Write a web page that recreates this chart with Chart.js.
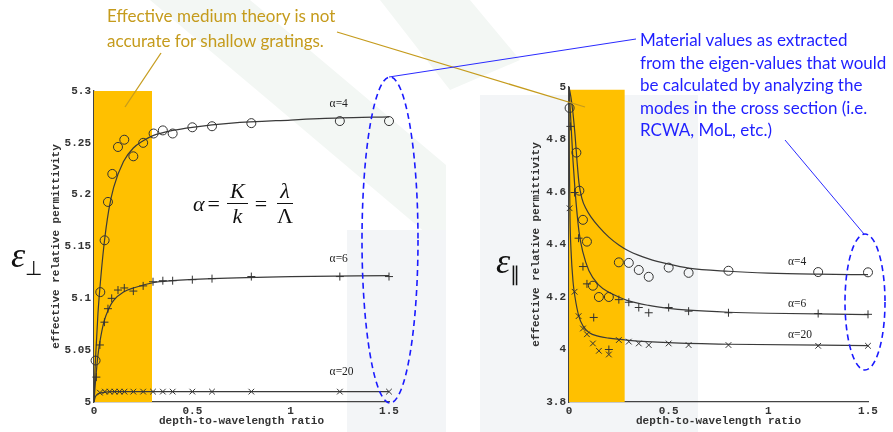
<!DOCTYPE html>
<html>
<head>
<meta charset="utf-8">
<script src="https://cdn.jsdelivr.net/npm/chart.js@4/dist/chart.umd.min.js"></script>
<style>
html, body { margin: 0; padding: 0; background: #fff; }
#page { position: relative; width: 893px; height: 432px; overflow: hidden; background: #fff; }
#bg, #marks { position: absolute; left: 0; top: 0; }
#marks { pointer-events: none; }
canvas { position: absolute; top: 0; }
#perp { left: 0; }
#par { left: 446px; }
.note { position: absolute; white-space: nowrap; font-family: Lato, "Open Sans", sans-serif; }
.gold { color: #c59b1c; font-size: 17px; line-height: 25px; }
.blue { color: #1f1fff; font-size: 17px; line-height: 22.5px; }
.eps { position: absolute; font-family: "Liberation Serif", serif; font-style: italic; font-size: 36px; color: #111; }
.eps sub { font-style: normal; font-size: 20px; }
.formula { position: absolute; left: 193px; top: 179px; font-family: "Liberation Serif", serif; font-size: 22px; display: flex; align-items: center; color: #111; }
.formula i { font-style: italic; }
.frac { display: inline-flex; flex-direction: column; align-items: center; margin: 0 4px; }
.frac span { padding: 0 3px; line-height: 24px; }
.frac span:first-child { border-bottom: 1px solid #111; }
.eq { margin: 0 3px; }
</style>
</head>
<body>
<div id="page">
  <svg id="bg" width="893" height="432">
    <polygon points="150,0 250,0 446,165 446,250" fill="#f3f7f4"/>
    <polygon points="380,0 470,0 520,60 450,90" fill="#f3f7f4"/>
    <rect x="347" y="230" width="99" height="202" fill="#f3f5f7"/>
    <rect x="480" y="95" width="218" height="337" fill="#f3f5f7"/>
  </svg>
  <canvas id="perp" width="446" height="432"></canvas>
  <canvas id="par" width="447" height="432"></canvas>
  <svg id="marks" width="893" height="432">
    <line x1="161" y1="53" x2="125" y2="107" stroke="#c59b1c" stroke-width="1.3"/>
    <line x1="337" y1="32" x2="585" y2="107" stroke="#c59b1c" stroke-width="1.3"/>
    <line x1="636" y1="39" x2="389" y2="77" stroke="#2a2aff" stroke-width="1"/>
    <line x1="785" y1="140" x2="864" y2="234" stroke="#2a2aff" stroke-width="1"/>
    <ellipse cx="390" cy="240" rx="28" ry="163" fill="none" stroke="#1a1aff" stroke-width="1.6" stroke-dasharray="6 4"/>
    <ellipse cx="865" cy="302" rx="20" ry="68" fill="none" stroke="#1a1aff" stroke-width="1.6" stroke-dasharray="6 4"/>
  </svg>
  <div class="note gold" style="left:107px; top:3px;">Effective medium theory is not<br>accurate for shallow gratings.</div>
  <div class="note blue" style="left:640px; top:29px;">Material values as extracted<br>from the eigen-values that would<br>be calculated by analyzing the<br>modes in the cross section (i.e.<br>RCWA, MoL, etc.)</div>
  <div class="eps" style="left:11px; top:234px;">ε<sub>⊥</sub></div>
  <div class="eps" style="left:496px; top:240px;">ε<sub>∥</sub></div>
  <div class="formula">
    <i>α</i><span class="eq">=</span>
    <span class="frac"><span><i>K</i></span><span><i>k</i></span></span>
    <span class="eq">=</span>
    <span class="frac"><span><i>λ</i></span><span>Λ</span></span>
  </div>
</div>
<script>
// ---- perpendicular permittivity (left plot) ----
const perpCirc4 = [[0.008,5.040],[0.032,5.106],[0.054,5.156],[0.071,5.193],[0.093,5.220],[0.122,5.246],[0.154,5.253],[0.2,5.237],[0.25,5.250],[0.303,5.259],[0.35,5.262],[0.4,5.259],[0.5,5.265],[0.6,5.266],[0.8,5.269],[1.25,5.271],[1.5,5.271]];
const perpPlus6 = [[0.012,5.024],[0.03,5.055],[0.053,5.077],[0.071,5.09],[0.09,5.10],[0.122,5.108],[0.154,5.110],[0.2,5.107],[0.25,5.112],[0.3,5.116],[0.35,5.117],[0.4,5.117],[0.5,5.118],[0.6,5.119],[0.8,5.121],[1.25,5.121],[1.5,5.121]];
const perpCross20 = [[0.03,5.009],[0.055,5.01],[0.08,5.01],[0.105,5.01],[0.13,5.01],[0.155,5.01],[0.2,5.01],[0.25,5.01],[0.3,5.01],[0.35,5.01],[0.4,5.01],[0.5,5.01],[0.6,5.01],[0.8,5.01],[1.25,5.01],[1.5,5.01]];

const perpFit4X = [0,0.005,0.01,0.02,0.03,0.05,0.075,0.1,0.15,0.2,0.25,0.3,0.4,0.5,0.7,1.0,1.25,1.5];
const perpFit4Y = [5.0,5.03,5.05,5.085,5.11,5.15,5.185,5.207,5.232,5.245,5.252,5.257,5.262,5.265,5.269,5.272,5.274,5.275];
const perpFit6X = [0,0.005,0.01,0.02,0.03,0.05,0.075,0.1,0.15,0.2,0.3,0.4,0.6,1.0,1.5];
const perpFit6Y = [5.0,5.014,5.025,5.045,5.058,5.077,5.09,5.098,5.106,5.11,5.115,5.117,5.119,5.121,5.122];
const perpFit20X = [0,0.005,0.01,0.02,0.04,0.1,0.5,1.5];
const perpFit20Y = [5.0,5.004,5.006,5.008,5.009,5.01,5.01,5.01];

const perpTicks = [5, 5.05, 5.1, 5.15, 5.2, 5.25, 5.3];
const perpTickLabels = ['5', '5.05', '5.1', '5.15', '5.2', '5.25', '5.3'];
const perpBand = [[0, 5.3], [0.295, 5.3]];
const perpLabels = ['α=4', 'α=6', 'α=20'];
const perpLabelX = [1.198, 1.198, 1.198];
const perpLabelY = [5.2875, 5.138, 5.029];

// ---- parallel permittivity (right plot) ----
const parCirc4 = [[0.003,4.92],[0.037,4.75],[0.052,4.605],[0.07,4.494],[0.09,4.411],[0.12,4.243],[0.15,4.2],[0.2,4.2],[0.25,4.332],[0.3,4.33],[0.35,4.303],[0.4,4.277],[0.5,4.312],[0.6,4.292],[0.8,4.30],[1.25,4.295],[1.5,4.294]];
const parPlus6 = [[0.007,4.85],[0.028,4.598],[0.048,4.424],[0.07,4.316],[0.09,4.25],[0.124,4.122],[0.2,4.0],[0.25,4.19],[0.3,4.18],[0.35,4.16],[0.4,4.14],[0.5,4.16],[0.6,4.146],[0.8,4.14],[1.25,4.137],[1.5,4.134]];
const parCross20 = [[0.003,4.538],[0.028,4.22],[0.048,4.127],[0.07,4.08],[0.09,4.058],[0.12,4.023],[0.15,3.995],[0.2,3.981],[0.25,4.036],[0.3,4.03],[0.35,4.023],[0.4,4.017],[0.5,4.023],[0.6,4.017],[0.8,4.017],[1.25,4.014],[1.5,4.014]];

const parFit4X = [0,0.01,0.02,0.03,0.04,0.05,0.065,0.085,0.11,0.15,0.2,0.25,0.3,0.4,0.5,0.6,0.8,1.0,1.25,1.5];
const parFit4Y = [5.0,4.96,4.90,4.82,4.72,4.635,4.575,4.537,4.505,4.467,4.428,4.398,4.375,4.345,4.325,4.31,4.298,4.291,4.287,4.285];
const parFit6X = [0,0.01,0.02,0.03,0.05,0.07,0.1,0.15,0.2,0.25,0.3,0.4,0.5,0.6,0.8,1.0,1.5];
const parFit6Y = [5.0,4.86,4.72,4.61,4.45,4.37,4.3,4.245,4.218,4.2,4.185,4.168,4.157,4.15,4.142,4.138,4.133];
const parFit20X = [0,0.002,0.005,0.01,0.02,0.03,0.05,0.07,0.1,0.15,0.2,0.3,0.5,0.8,1.5];
const parFit20Y = [5.0,4.7,4.5,4.38,4.26,4.2,4.125,4.09,4.065,4.05,4.043,4.035,4.026,4.02,4.015];

const parTicks = [3.8, 4, 4.2, 4.4, 4.6, 4.8, 5];
const parTickLabels = ['3.8', '4', '4.2', '4.4', '4.6', '4.8', '5'];
const parBand = [[0, 4.99], [0.28, 4.99]];
const parLabels = ['α=4', 'α=6', 'α=20'];
const parLabelX = [1.099, 1.099, 1.099];
const parLabelY = [4.335, 4.175, 4.057];

const depthTicks = [0, 0.5, 1, 1.5];
const depthTickLabels = ['0', '0.5', '1', '1.5'];

const ink = '#333';
const monoFont = { family: '"Liberation Mono", "DejaVu Sans Mono", monospace', size: 11, weight: 'bold' };

function pts(list) {
    return list.map(p => ({ x: p[0], y: p[1] }));
}
function zipXY(xs, ys) {
    return xs.map((x, i) => ({ x: x, y: ys[i] }));
}

function markerSet(data, style, radius) {
    return {
        type: 'scatter',
        data: pts(data),
        pointStyle: style,
        pointRadius: radius,
        backgroundColor: 'rgba(0,0,0,0)',
        borderColor: ink,
        pointBorderWidth: 1,
        clip: false
    };
}
function curveSet(xs, ys) {
    return {
        type: 'line',
        data: zipXY(xs, ys),
        borderColor: '#3a3a3a',
        borderWidth: 1.2,
        pointRadius: 0,
        cubicInterpolationMode: 'monotone',
        fill: false
    };
}
function bandSet(band) {
    return {
        type: 'line',
        data: pts(band),
        borderWidth: 0,
        borderColor: 'rgba(0,0,0,0)',
        pointRadius: 0,
        backgroundColor: '#ffc000',
        fill: 'start',
        order: 9
    };
}

// writes the α=… tag next to each curve
const curveTags = {
    id: 'curveTags',
    afterDatasetsDraw(chart, args, opts) {
        const ctx = chart.ctx;
        const xs = chart.scales.x, ys = chart.scales.y;
        ctx.save();
        ctx.font = '11.5px "Liberation Serif", serif';
        ctx.fillStyle = '#222';
        ctx.textBaseline = 'middle';
        opts.text.forEach((t, i) => {
            ctx.fillText(t, xs.getPixelForValue(opts.x[i]), ys.getPixelForValue(opts.y[i]));
        });
        ctx.restore();
    }
};

function makeChart(id, cfg) {
    return new Chart(document.getElementById(id), {
        type: 'scatter',
        data: {
            datasets: [
                markerSet(cfg.circ, 'circle', 4.5),
                markerSet(cfg.plus, 'cross', 4),
                markerSet(cfg.cross, 'crossRot', 4),
                curveSet(cfg.fit4[0], cfg.fit4[1]),
                curveSet(cfg.fit6[0], cfg.fit6[1]),
                curveSet(cfg.fit20[0], cfg.fit20[1]),
                bandSet(cfg.band)
            ]
        },
        options: {
            responsive: false,
            animation: false,
            layout: { padding: cfg.pad },
            plugins: {
                legend: { display: false },
                tooltip: { enabled: false },
                curveTags: { text: cfg.tags, x: cfg.tagX, y: cfg.tagY }
            },
            scales: {
                x: {
                    type: 'linear',
                    min: 0, max: 1.5,
                    afterBuildTicks: s => { s.ticks = depthTicks.map(v => ({ value: v })); },
                    afterFit: s => { s.height = 30; },
                    ticks: {
                        color: ink, font: monoFont, padding: 3, maxRotation: 0,
                        callback: (v, i) => depthTickLabels[i]
                    },
                    grid: { display: false, drawTicks: false },
                    border: { display: true, color: '#444', width: 1.3 },
                    title: {
                        display: true, text: 'depth-to-wavelength ratio',
                        color: ink, font: monoFont, padding: { top: 0, bottom: 4 }
                    }
                },
                y: {
                    type: 'linear',
                    min: cfg.ticks[0], max: cfg.ticks[cfg.ticks.length - 1],
                    afterBuildTicks: s => { s.ticks = cfg.ticks.map(v => ({ value: v })); },
                    afterFit: s => { s.width = cfg.axisW; },
                    ticks: {
                        color: ink, font: monoFont, padding: 3,
                        callback: (v, i) => cfg.tickLabels[i]
                    },
                    grid: { display: false, drawTicks: false },
                    border: { display: true, color: '#444', width: 1.3 },
                    title: {
                        display: true, text: 'effective relative permittivity',
                        color: ink, font: monoFont, padding: { top: 4, bottom: 0 }
                    }
                }
            }
        },
        plugins: [curveTags]
    });
}

makeChart('perp', {
    circ: perpCirc4, plus: perpPlus6, cross: perpCross20,
    fit4: [perpFit4X, perpFit4Y], fit6: [perpFit6X, perpFit6Y], fit20: [perpFit20X, perpFit20Y],
    band: perpBand, ticks: perpTicks, tickLabels: perpTickLabels,
    tags: perpLabels, tagX: perpLabelX, tagY: perpLabelY,
    pad: { left: 46, top: 91, right: 57, bottom: 0 }, axisW: 48
});

makeChart('par', {
    circ: parCirc4, plus: parPlus6, cross: parCross20,
    fit4: [parFit4X, parFit4Y], fit6: [parFit6X, parFit6Y], fit20: [parFit20X, parFit20Y],
    band: parBand, ticks: parTicks, tickLabels: parTickLabels,
    tags: parLabels, tagX: parLabelX, tagY: parLabelY,
    pad: { left: 80, top: 87, right: 25, bottom: 0 }, axisW: 43
});
</script>
</body>
</html>
